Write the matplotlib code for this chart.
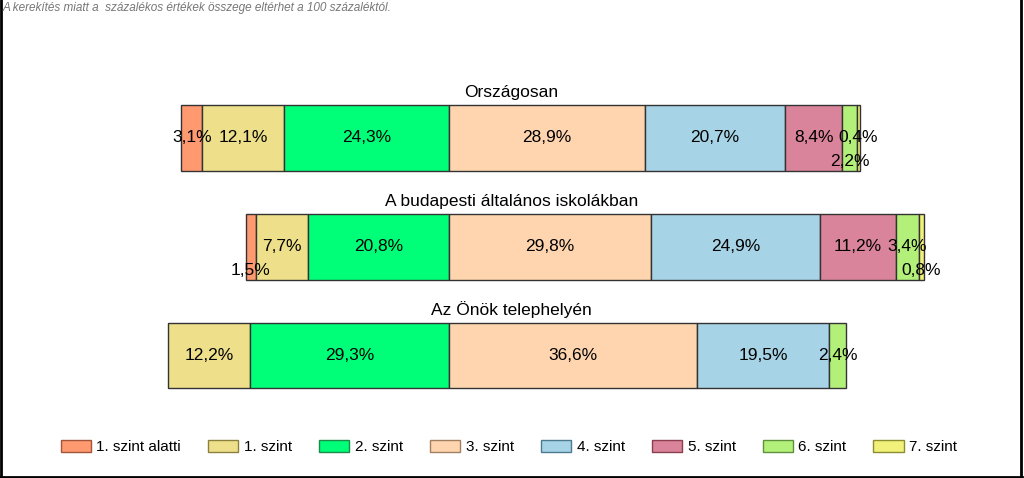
import matplotlib
matplotlib.use("Agg")
import matplotlib.pyplot as plt
from matplotlib.lines import Line2D
from matplotlib.patches import Patch

plt.rcParams['font.family'] = ['Liberation Sans', 'DejaVu Sans']

# data
categories = ["Országosan", "A budapesti általános iskolákban", "Az Önök telephelyén"]
levels = ["1. szint alatti", "1. szint", "2. szint", "3. szint",
          "4. szint", "5. szint", "6. szint", "7. szint"]
below1 = [3.1, 1.5, 0.0]
lvl1 = [12.1, 7.7, 12.2]
lvl2 = [24.3, 20.8, 29.3]
lvl3 = [28.9, 29.8, 36.6]
lvl4 = [20.7, 24.9, 19.5]
lvl5 = [8.4, 11.2, 0.0]
lvl6 = [2.2, 3.4, 2.4]
lvl7 = [0.4, 0.8, 0.0]
series = [below1, lvl1, lvl2, lvl3, lvl4, lvl5, lvl6, lvl7]
note = "A kerekítés miatt a  százalékos értékek összege eltérhet a 100 százaléktól."

colors = ['#FF9970', '#EEE08A', '#00FF78', '#FFD5B0',
          '#A6D3E5', '#D9849A', '#B3F07A', '#F0F07A']
edge_legend = ['#A0553A', '#8C8040', '#1E8A4A', '#A08060',
               '#4E7A90', '#8A3E50', '#5E9040', '#8C8C30']
# labels that are pushed below the bar centre (row, level index)
low_labels = {(0, 6), (1, 0), (1, 7)}

W, H = 1024, 478
fig = plt.figure(figsize=(W / 100, H / 100), dpi=100)
ax = fig.add_axes([0, 0, 1, 1])
px = 6.78      # pixels per percent
cx = 449       # pixel of the 2/3 boundary
row_px = 108.75
top_px = 138
ax.set_xlim(-cx / px, (W - cx) / px)
ax.set_ylim((H - top_px) / row_px, -top_px / row_px)
ax.axis('off')

bar_h = 66 / row_px
for r, cat in enumerate(categories):
    left = -(below1[r] + lvl1[r] + lvl2[r])
    for k, s in enumerate(series):
        v = s[r]
        if v <= 0:
            continue
        ax.barh(r, v, left=left, height=bar_h, color=colors[k],
                edgecolor='#333333', linewidth=1)
        dy = 24 / row_px if (r, k) in low_labels else 0
        ax.text(left + v / 2, r + dy, f"{v:.1f}".replace('.', ',') + '%',
                ha='center', va='center', fontsize=12.5, color='black')
        left += v
    ax.text(511.5 / px - cx / px, r - bar_h / 2 - 8 / row_px, cat,
            ha='center', va='baseline', fontsize=12.5, color='black')

fig.text(3 / W, 1 - 2 / H, note, ha='left', va='top', fontsize=8.5,
         style='italic', color='#777777')

handles = [Patch(facecolor=colors[k], edgecolor=edge_legend[k], linewidth=1)
           for k in range(len(levels))]
fig.legend(handles, levels, loc='center', bbox_to_anchor=(0.497, 1 - 447 / H),
           ncol=8, frameon=False, fontsize=11, handlelength=2.0,
           handleheight=0.85, handletextpad=0.35, columnspacing=1.76)

# frame
for xs, ys in [([1, 1], [0, H]), ([1021, 1021], [0, H - 1]), ([0, 1022], [H - 1.5, H - 1.5])]:
    fig.add_artist(Line2D([x / W for x in xs], [1 - y / H for y in ys],
                          transform=fig.transFigure, color='black', linewidth=2))

fig.savefig("out.png", dpi=100)
